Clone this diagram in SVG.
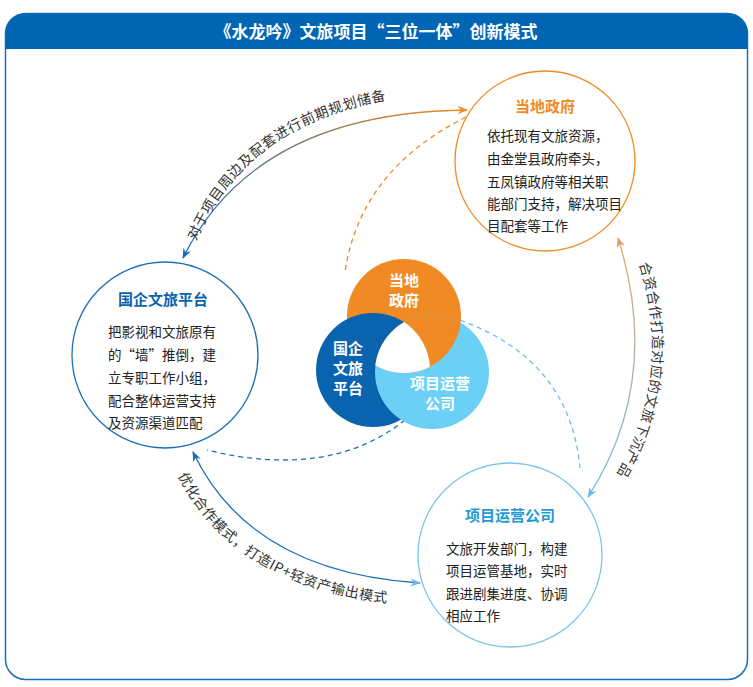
<svg xmlns="http://www.w3.org/2000/svg" width="753" height="687" viewBox="0 0 753 687">
<defs>
<style>
text{font-family:"Noto Sans CJK SC","Noto Sans",sans-serif}
.body{font-size:13.5px;fill:#222}
.lab{font-size:14px;fill:#333;letter-spacing:0.6px}
.vt{font-size:15px;font-weight:bold;fill:#fff;text-anchor:middle}
</style>
<linearGradient id="gTop" gradientUnits="userSpaceOnUse" x1="183" y1="258" x2="467" y2="110"><stop offset="0" stop-color="#1b6fb8"/><stop offset="1" stop-color="#f08a24"/></linearGradient>
<linearGradient id="gRight" gradientUnits="userSpaceOnUse" x1="618" y1="238" x2="588" y2="497"><stop offset="0" stop-color="#e9a56a"/><stop offset="1" stop-color="#6cbbec"/></linearGradient>
<marker id="aO" viewBox="0 0 10 10" refX="9" refY="5" markerWidth="8" markerHeight="8" orient="auto-start-reverse"><path d="M0,1 L10,5 L0,9 L3,5Z" fill="#f08a24"/></marker>
<marker id="aB" viewBox="0 0 10 10" refX="9" refY="5" markerWidth="8" markerHeight="8" orient="auto-start-reverse"><path d="M0,1 L10,5 L0,9 L3,5Z" fill="#1b6fb8"/></marker>
<marker id="aL" viewBox="0 0 10 10" refX="9" refY="5" markerWidth="8" markerHeight="8" orient="auto-start-reverse"><path d="M0,1 L10,5 L0,9 L3,5Z" fill="#6cbbec"/></marker>
<marker id="aT" viewBox="0 0 10 10" refX="9" refY="5" markerWidth="8" markerHeight="8" orient="auto-start-reverse"><path d="M0,1 L10,5 L0,9 L3,5Z" fill="#d9a070"/></marker>
<clipPath id="cL"><circle cx="432" cy="372" r="57"/></clipPath>
<clipPath id="cD"><circle cx="373" cy="370" r="57"/></clipPath>
<path id="tpTop" d="M195,244 Q255,96 465,93"/>
<path id="tpRight" d="M637,258 Q679,380 608,488"/>
<path id="tpBot" d="M176,472 Q236,594 412,605"/>
</defs>
<rect x="5.5" y="13.5" width="742" height="666" rx="20" fill="#fff" stroke="#1b6fb8" stroke-width="1.5"/>
<path d="M5.5,49 V33.5 A20,20 0 0 1 25.5,13.5 H727.5 A20,20 0 0 1 747.5,33.5 V49 Z" fill="#0066b3"/>
<text x="376" y="38" text-anchor="middle" font-size="17" font-weight="bold" fill="#fff">《水龙吟》文旅项目“三位一体”创新模式</text>

<g id="connectors" fill="none">
<path d="M466,117 Q360,170 345,272" stroke="#f08a24" stroke-width="1.3" stroke-dasharray="5,4"/>
<path d="M460,320 Q570,360 580,468" stroke="#6cbbec" stroke-width="1.3" stroke-dasharray="5,4"/>
<path d="M405,420 Q330,480 207,450" stroke="#1b6fb8" stroke-width="1.3" stroke-dasharray="5,4"/>
<path d="M183,258 Q255,112 467,110" stroke="url(#gTop)" stroke-width="1.3" marker-start="url(#aB)" marker-end="url(#aO)"/>
<path d="M618,238 Q663,380 588,497" stroke="url(#gRight)" stroke-width="1.3" marker-start="url(#aT)" marker-end="url(#aL)"/>
<path d="M193,452 Q250,572 420,583" stroke="#1b6fb8" stroke-width="1.3" marker-start="url(#aB)" marker-end="url(#aL)"/>
<text class="lab"><textPath href="#tpTop" startOffset="3">对于项目周边及配套进行前期规划储备</textPath></text>
<text class="lab"><textPath href="#tpRight" startOffset="6">合资合作打造对应的文旅下沉产品</textPath></text>
<text class="lab"><textPath href="#tpBot" startOffset="4">优化合作模式，打造IP+轻资产输出模式</textPath></text>
</g>

<g id="venn">
<circle cx="404" cy="316" r="57" fill="#f08a24"/>
<circle cx="373" cy="370" r="57" fill="#0a63ae"/>
<circle cx="432" cy="372" r="57" fill="#6ccff6"/>
<circle cx="404" cy="316" r="57" fill="#f08a24" clip-path="url(#cL)"/>
<g clip-path="url(#cL)"><circle cx="404" cy="316" r="57" fill="#fff" clip-path="url(#cD)"/></g>
<text class="vt" x="404" y="286">当地</text>
<text class="vt" x="404" y="306">政府</text>
<text class="vt" x="348" y="354">国企</text>
<text class="vt" x="348" y="374">文旅</text>
<text class="vt" x="348" y="394">平台</text>
<text class="vt" x="440" y="389">项目运营</text>
<text class="vt" x="440" y="409">公司</text>
</g>

<g id="gov">
<circle cx="545" cy="161" r="90" fill="#fff" stroke="#f08a24" stroke-width="1.3"/>
<text x="545" y="112" text-anchor="middle" font-size="15" font-weight="bold" fill="#f08a24">当地政府</text>
<text class="body" x="487" y="141">依托现有文旅资源，</text>
<text class="body" x="487" y="164">由金堂县政府牵头，</text>
<text class="body" x="487" y="187">五凤镇政府等相关职</text>
<text class="body" x="487" y="209">能部门支持，解决项目</text>
<text class="body" x="487" y="231">目配套等工作</text>
</g>

<g id="soe">
<circle cx="165" cy="355" r="93" fill="#fff" stroke="#1b6fb8" stroke-width="1.3"/>
<text x="163" y="305" text-anchor="middle" font-size="15" font-weight="bold" fill="#0a63ae">国企文旅平台</text>
<text class="body" x="108" y="337">把影视和文旅原有</text>
<text class="body" x="108" y="360">的“墙”推倒，建</text>
<text class="body" x="108" y="383">立专职工作小组，</text>
<text class="body" x="108" y="406">配合整体运营支持</text>
<text class="body" x="108" y="428">及资源渠道匹配</text>
</g>

<g id="op">
<circle cx="510" cy="555" r="92" fill="#fff" stroke="#7cc4ec" stroke-width="1.3"/>
<text x="510" y="521" text-anchor="middle" font-size="15" font-weight="bold" fill="#1e9ad6">项目运营公司</text>
<text class="body" x="446" y="554">文旅开发部门，构建</text>
<text class="body" x="446" y="576">项目运管基地，实时</text>
<text class="body" x="446" y="599">跟进剧集进度、协调</text>
<text class="body" x="446" y="621">相应工作</text>
</g>
</svg>
